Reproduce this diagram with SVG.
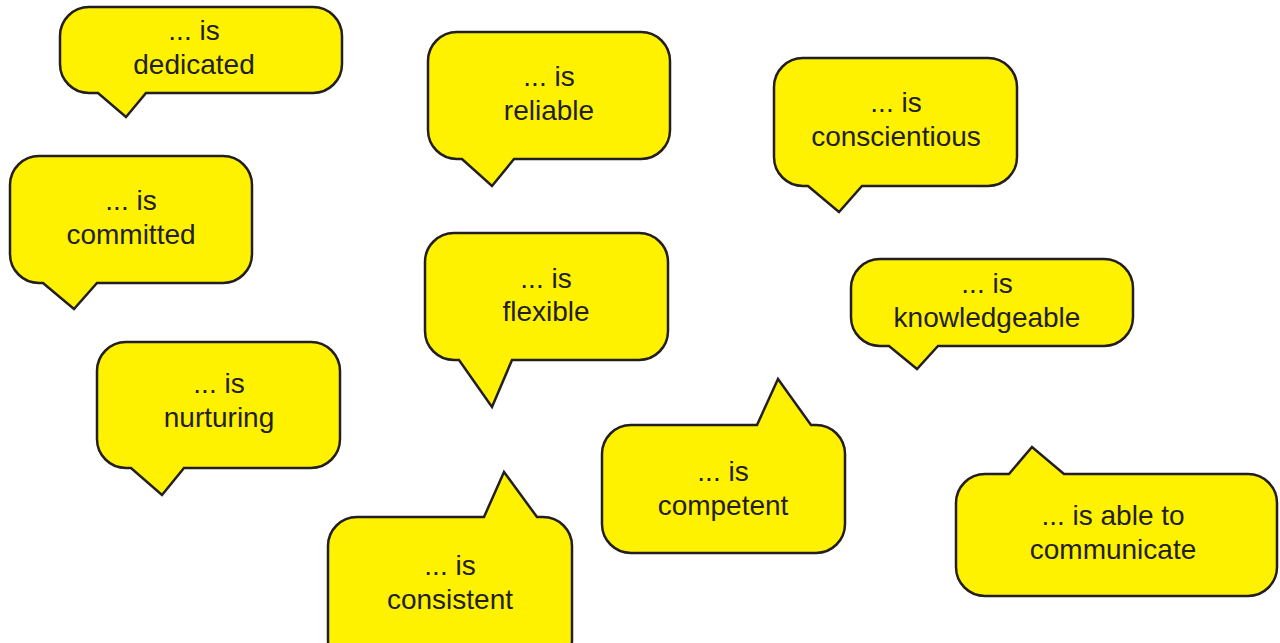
<svg xmlns="http://www.w3.org/2000/svg" width="1280" height="643" viewBox="0 0 1280 643">
<style>
.b{fill:#fff200;stroke:#231f20;stroke-width:2.5;stroke-linejoin:miter}
.t{font-family:"Liberation Sans",Arial,sans-serif;font-size:28px;fill:#231f20;text-anchor:middle}
</style>
<rect width="1280" height="643" fill="#ffffff"/>
<g id="dedicated">
<path class="b" d="M89,7 H313 A29,29 0 0 1 342,36 V64 A29,29 0 0 1 313,93 H146 L126,117 L98,93 H89 A29,29 0 0 1 60,64 V36 A29,29 0 0 1 89,7 Z"/>
<text class="t" x="194" y="39.5">... is</text>
<text class="t" x="194" y="73.5">dedicated</text>
</g>
<g id="committed">
<path class="b" d="M39,156 H223 A29,29 0 0 1 252,185 V254 A29,29 0 0 1 223,283 H97 L74,309 L43,283 H39 A29,29 0 0 1 10,254 V185 A29,29 0 0 1 39,156 Z"/>
<text class="t" x="131" y="209.5">... is</text>
<text class="t" x="131" y="243.5">committed</text>
</g>
<g id="nurturing">
<path class="b" d="M126,342 H311 A29,29 0 0 1 340,371 V439 A29,29 0 0 1 311,468 H184 L162,495 L131,468 H126 A29,29 0 0 1 97,439 V371 A29,29 0 0 1 126,342 Z"/>
<text class="t" x="219" y="392.5">... is</text>
<text class="t" x="219" y="427">nurturing</text>
</g>
<g id="reliable">
<path class="b" d="M457,32 H641 A29,29 0 0 1 670,61 V130 A29,29 0 0 1 641,159 H514 L492,186 L462,159 H457 A29,29 0 0 1 428,130 V61 A29,29 0 0 1 457,32 Z"/>
<text class="t" x="549" y="85.5">... is</text>
<text class="t" x="549" y="119.5">reliable</text>
</g>
<g id="flexible">
<path class="b" d="M454,233 H639 A29,29 0 0 1 668,262 V331 A29,29 0 0 1 639,360 H512 L492,407 L459,360 H454 A29,29 0 0 1 425,331 V262 A29,29 0 0 1 454,233 Z"/>
<text class="t" x="546" y="287.5">... is</text>
<text class="t" x="546" y="320.5">flexible</text>
</g>
<g id="consistent">
<path class="b" d="M357,517 H484 L504,472 L537,517 H543 A29,29 0 0 1 572,546 V640 A29,29 0 0 1 543,669 H357 A29,29 0 0 1 328,640 V546 A29,29 0 0 1 357,517 Z"/>
<text class="t" x="450" y="574.5">... is</text>
<text class="t" x="450" y="608.5">consistent</text>
</g>
<g id="competent">
<path class="b" d="M631,425 H757 L778,379 L811,425 H816 A29,29 0 0 1 845,454 V524 A29,29 0 0 1 816,553 H631 A29,29 0 0 1 602,524 V454 A29,29 0 0 1 631,425 Z"/>
<text class="t" x="723" y="480.5">... is</text>
<text class="t" x="723" y="514.5">competent</text>
</g>
<g id="conscientious">
<path class="b" d="M803,58 H988 A29,29 0 0 1 1017,87 V157 A29,29 0 0 1 988,186 H862 L839,212 L808,186 H803 A29,29 0 0 1 774,157 V87 A29,29 0 0 1 803,58 Z"/>
<text class="t" x="896" y="112">... is</text>
<text class="t" x="896" y="145.5">conscientious</text>
</g>
<g id="knowledgeable">
<path class="b" d="M880,259 H1104 A29,29 0 0 1 1133,288 V317 A29,29 0 0 1 1104,346 H938 L917,369 L889,346 H880 A29,29 0 0 1 851,317 V288 A29,29 0 0 1 880,259 Z"/>
<text class="t" x="987" y="292.5">... is</text>
<text class="t" x="987" y="326.5">knowledgeable</text>
</g>
<g id="communicate">
<path class="b" d="M985,474 H1009 L1032,447 L1064,474 H1248 A29,29 0 0 1 1277,503 V567 A29,29 0 0 1 1248,596 H985 A29,29 0 0 1 956,567 V503 A29,29 0 0 1 985,474 Z"/>
<text class="t" x="1113" y="524.5">... is able to</text>
<text class="t" x="1113" y="558.5">communicate</text>
</g>
<g id="connectors"></g>
</svg>
